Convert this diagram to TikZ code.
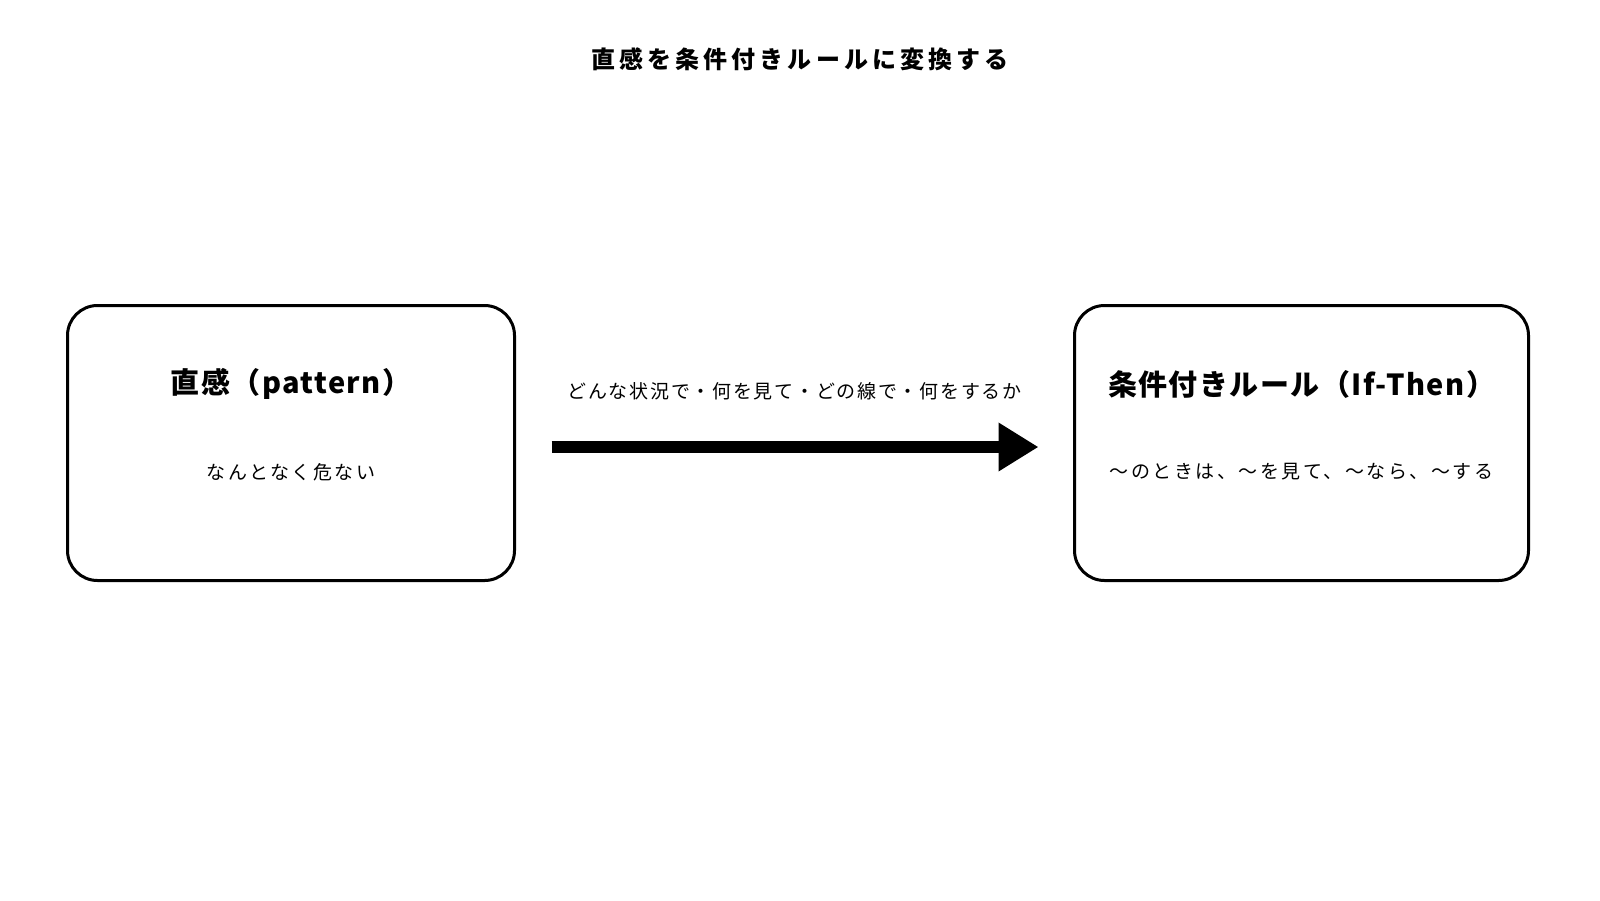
\documentclass[tikz,border=0pt]{standalone}
\usepackage{fontspec}
\setmainfont{Noto Sans CJK JP}
\newfontfamily\headfont[LetterSpace=17]{Noto Sans CJK JP}
\newfontfamily\cardheadfont[LetterSpace=5]{Noto Sans CJK JP}
\newfontfamily\spacedfont[LetterSpace=13]{Noto Sans CJK JP}
\newfontfamily\labelfont[LetterSpace=9]{Noto Sans CJK JP}
\usetikzlibrary{positioning,arrows.meta}
\tikzset{
	card/.style={draw, line width=3pt, rounded corners=30pt,
		minimum height=275pt, inner sep=0pt},
	headline/.style={font=\headfont\bfseries\fontsize{24}{28}\selectfont},
	cardtitle/.style={font=\cardheadfont\bfseries\fontsize{29}{34}\selectfont},
	cardtext/.style={font=\spacedfont\fontsize{19}{24}\selectfont},
	flowlabel/.style={font=\labelfont\fontsize{19}{24}\selectfont},
	flow/.style={-{Triangle[length=40pt,width=46pt]}, line width=12pt}
}

\begin{document}
\begin{tikzpicture}[x=1pt, y=-1pt]
	\useasboundingbox[fill=white] (0,0) rectangle (1600,900);

	\node[headline] (title) at (800,59) {直感を条件付きルールに変換する};

	% the two cards
	\node[card, minimum width=447pt] (intuition) at (291,443) {};
	\node[card, minimum width=454pt] (rule) at (1301.5,443) {};

	\node[cardtitle] (intuitionhead) at ([yshift=59pt]intuition.center) {直感（pattern）};
	\node[cardtext] (intuitiontext) at ([yshift=-29pt]intuition.center) {なんとなく危ない};

	\node[cardtitle] (rulehead) at ([yshift=59pt]rule.center) {条件付きルール（If-Then）};
	\node[cardtext] (ruletext) at ([yshift=-29pt]rule.center) {〜のときは、〜を見て、〜なら、〜する};

	% conversion arrow
	\draw[flow, shorten <=35.5pt, shorten >=34.5pt] ([yshift=-4pt]intuition.east) -- ([yshift=-4pt]rule.west)
		node[midway, above=38pt, flowlabel] (question) {どんな状況で・何を見て・どの線で・何をするか};

\end{tikzpicture}
\end{document}
